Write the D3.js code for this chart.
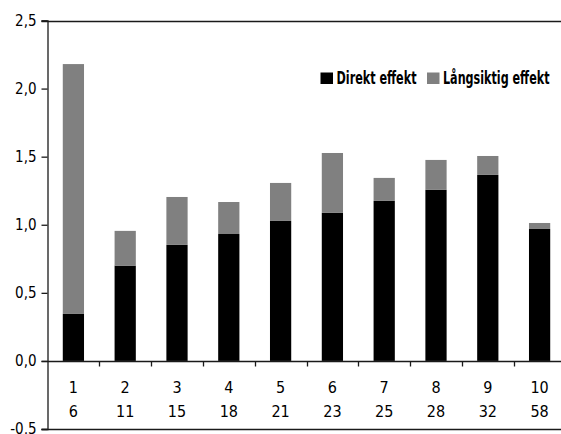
<!DOCTYPE html>
<html>
<head>
<meta charset="utf-8">
<script src="https://cdn.jsdelivr.net/npm/d3@7"></script>
<style>
  html, body { margin: 0; padding: 0; background: #fff; }
  svg { display: block; }
  text { font-family: "DejaVu Sans Condensed", "Liberation Sans Narrow", "Arial Narrow", sans-serif; fill: #000; }
</style>
</head>
<body>
<svg id="chart" width="561" height="434"></svg>
<script>
// Categories: group number and its second label row
const groups = ["1", "2", "3", "4", "5", "6", "7", "8", "9", "10"];
const groupSizes = ["6", "11", "15", "18", "21", "23", "25", "28", "32", "58"];

// Series values
const direktEffekt = [0.345, 0.70, 0.852, 0.932, 1.028, 1.087, 1.175, 1.256, 1.366, 0.969];
const langsiktigEffekt = [1.835, 0.255, 0.352, 0.235, 0.279, 0.440, 0.169, 0.220, 0.139, 0.044];

const yTicks = [-0.5, 0, 0.5, 1.0, 1.5, 2.0, 2.5];
const seriesNames = ["Direkt effekt", "Långsiktig effekt"];
const seriesColors = ["#000000", "#808080"];

const svg = d3.select("#chart");
const plotLeft = 47.5, plotRight = 565.5, plotTop = 20.5, plotBottom = 429;

const x = d3.scaleBand()
  .domain(groups)
  .range([plotLeft, plotRight])
  .paddingInner(0.59)
  .paddingOuter(0.295);

const y = d3.scaleLinear()
  .domain([-0.5, 2.5])
  .range([plotBottom, plotTop]);

const fmt = d => d3.format(".1f")(d).replace(".", ",").replace("\u2212", "-");

// Stacked data
const rows = groups.map((g, i) => ({ g, direkt: direktEffekt[i], lang: langsiktigEffekt[i] }));
const stack = d3.stack().keys(["direkt", "lang"])(rows);

svg.append("g").selectAll("g")
  .data(stack)
  .join("g")
  .attr("fill", (d, i) => seriesColors[i])
  .selectAll("rect")
  .data(d => d)
  .join("rect")
  .attr("x", d => x(d.data.g))
  .attr("width", x.bandwidth())
  .attr("y", d => y(d[1]))
  .attr("height", d => y(d[0]) - y(d[1]));

// Horizontal frame lines at top and bottom of the value range
const axisColor = "#1a1a1a";
[2.5, -0.5].forEach(v => {
  svg.append("line")
    .attr("x1", plotLeft - 6).attr("x2", 561)
    .attr("y1", Math.round(y(v)) + 0.5).attr("y2", Math.round(y(v)) + 0.5)
    .attr("stroke", axisColor).attr("stroke-width", 1.3);
});

// Y axis
const yAxis = d3.axisLeft(y)
  .tickValues(yTicks)
  .tickFormat(fmt)
  .tickSize(6)
  .tickPadding(5);

const yG = svg.append("g")
  .attr("transform", `translate(${plotLeft},0)`)
  .call(yAxis);
yG.select(".domain").attr("stroke", axisColor).attr("stroke-width", 1.3);
yG.selectAll(".tick line").attr("stroke", axisColor).attr("stroke-width", 1.3);
yG.selectAll(".tick text")
  .attr("font-size", 15)
  .attr("font-family", "DejaVu Sans Condensed, Liberation Sans Narrow, sans-serif")
  .attr("fill", "#000");

// Zero line (category axis)
const y0 = Math.round(y(0)) + 0.5;
svg.append("line")
  .attr("x1", plotLeft - 6).attr("x2", 561)
  .attr("y1", y0).attr("y2", y0)
  .attr("stroke", axisColor).attr("stroke-width", 1.3);

// Category separators under the zero line
const step = x.step();
groups.slice(0, -1).forEach(g => {
  const tx = Math.round(x(g) + x.bandwidth() / 2 + step / 2) + 0.5;
  svg.append("line")
    .attr("x1", tx).attr("x2", tx)
    .attr("y1", y0).attr("y2", y0 + 5)
    .attr("stroke", axisColor).attr("stroke-width", 1.3);
});

// Two-row category labels
const labelG = svg.append("g").attr("text-anchor", "middle").attr("font-size", 16);
groups.forEach((g, i) => {
  const cx = x(g) + x.bandwidth() / 2;
  labelG.append("text").attr("x", cx).attr("y", 393).text(g);
  labelG.append("text").attr("x", cx).attr("y", 416.5).text(groupSizes[i]);
});

// Legend, right aligned, bold condensed text
const legend = svg.append("g").attr("font-size", 17).attr("font-weight", "bold");
const legendWidths = [80, 106.5];
let lx = 549.5;
seriesNames.map((n, i) => ({ n, c: seriesColors[i], w: legendWidths[i] }))
  .reverse()
  .forEach(it => {
    lx -= it.w;
    legend.append("text")
      .attr("x", lx).attr("y", 83.5)
      .attr("textLength", it.w)
      .attr("lengthAdjust", "spacingAndGlyphs")
      .text(it.n);
    legend.append("rect")
      .attr("x", lx - 16).attr("y", 72.5)
      .attr("width", 12.5).attr("height", 11.5)
      .attr("fill", it.c);
    lx -= 16 + 10.5;
  });
</script>
</body>
</html>
